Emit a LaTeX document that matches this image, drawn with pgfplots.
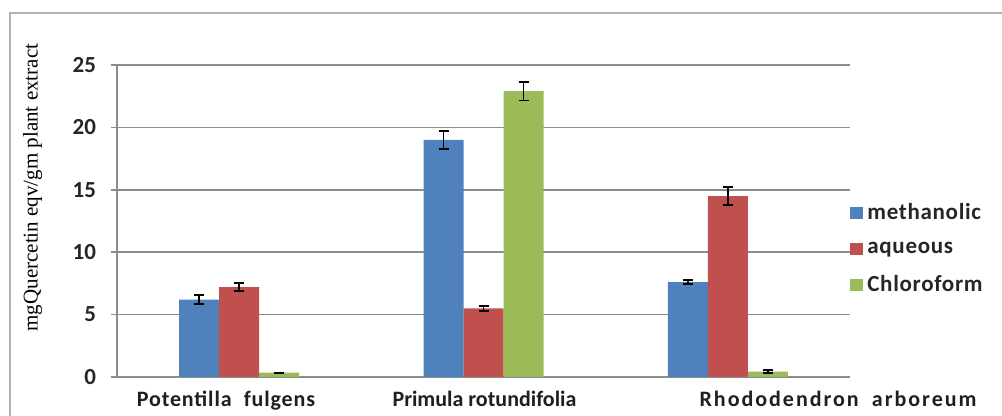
\documentclass[border=0pt]{standalone}
\usepackage{pgfplots}
\pgfplotsset{compat=1.18}
\usepackage{pgfplotstable}
\usepackage{fontspec}
\setmainfont{Carlito}
\newfontfamily\seriflab{Liberation Serif}

\definecolor{cmeth}{HTML}{4F81BD}
\definecolor{caq}{HTML}{C0504D}
\definecolor{cchl}{HTML}{9BBB59}
\definecolor{gridgray}{HTML}{8C8C8C}

% x = category index, y = mean, e = standard error
\pgfplotstableread{
x y e
0 6.2 0.37
1 19.0 0.72
2 7.6 0.15
}\methanolic
\pgfplotstableread{
x y e
0 7.2 0.3
1 5.5 0.2
2 14.5 0.7
}\aqueous
\pgfplotstableread{
x y e
0 0.35 0
1 22.9 0.75
2 0.42 0.12
}\chloroform

\begin{document}
\begin{tikzpicture}
\useasboundingbox (0,0) rectangle (501pt,208pt);
\clip (0,0) rectangle (501pt,208pt);
% outer chart frame
\draw[gray!60, line width=1.2pt] (5pt,-10pt) rectangle (520pt,201.5pt);
\begin{axis}[
  at={(58.5pt,19.5pt)}, anchor=south west,
  scale only axis, width=366.5pt, height=156pt,
  ybar=0pt, bar width=20pt,
  xmin=-0.5, xmax=2.5, ymin=0, ymax=25,
  ytick={0,5,10,15,20,25},
  xtick={-0.054,1.004,2.451},
  xticklabels={{\addfontfeatures{LetterSpace=4}Potentilla\hspace{0.55em}fulgens},{Primula rotundifolia},{\addfontfeatures{LetterSpace=9}Rhododendron\hspace{0.6em}arboreum}},
  axis x line*=bottom, axis y line*=left,
  axis line style={gridgray, line width=0.8pt},
  x axis line style={-}, y axis line style={-},
  ymajorgrids, grid style={gridgray, line width=0.8pt},
  xtick style={draw=none},
  ytick style={gridgray, line width=0.8pt},
  tick align=outside, major tick length=3pt,
  yticklabel style={font=\fontsize{11.5}{13}\selectfont\bfseries, text=black!85, xshift=-4pt},
  xticklabel style={font=\fontsize{11}{13}\selectfont\bfseries, text=black!88, yshift=-0.5pt},
  /pgf/number format/assume math mode=true,
  ylabel={mgQuercetin eqv/gm plant extract},
  every axis y label/.style={at={(axis description cs:-0.115,0.607)}, rotate=90, anchor=center,
     font=\seriflab\fontsize{10.5}{12}\selectfont, text=black},
  legend style={at={(1.0,0.57)}, anchor=north west, draw=none, fill=none,
     font=\addfontfeatures{LetterSpace=3}\fontsize{11.5}{13}\selectfont\bfseries, text=black!85,
     row sep=5.5pt, inner sep=0pt, legend cell align=left},
  legend image code/.code={\fill[#1, draw=none] (0pt,-3pt) rectangle (6.5pt,3pt);},
  error bars/error bar style={black, line width=0.9pt},
  error bars/error mark options={black, line width=0.9pt, rotate=90, mark size=2.5pt},
]
\addplot[fill=cmeth, draw=none, error bars/.cd, y dir=both, y explicit]
  table[x=x, y=y, y error=e]{\methanolic};
\addplot[fill=caq, draw=none, error bars/.cd, y dir=both, y explicit]
  table[x=x, y=y, y error=e]{\aqueous};
\addplot[fill=cchl, draw=none, error bars/.cd, y dir=both, y explicit]
  table[x=x, y=y, y error=e]{\chloroform};
\legend{methanolic, aqueous, Chloroform}
\end{axis}
\end{tikzpicture}
\end{document}
